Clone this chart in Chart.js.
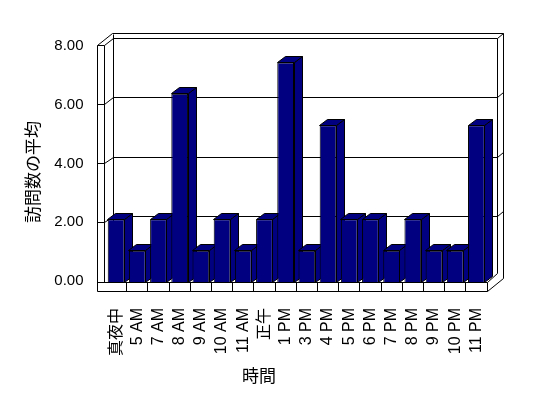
<!DOCTYPE html>
<html>
<head>
<meta charset="utf-8">
<script src="https://cdn.jsdelivr.net/npm/chart.js@4/dist/chart.umd.min.js"></script>
<style>
    html, body { margin: 0; padding: 0; background: #ffffff; }
    #wrap { width: 548px; height: 398px; }
</style>
</head>
<body>
<div id="wrap"><canvas id="visitsChart" width="548" height="398"></canvas></div>
<script>
const categories = ['真夜中', '5 AM', '7 AM', '8 AM', '9 AM', '10 AM', '11 AM', '正午', '1 PM', '3 PM', '4 PM', '5 PM', '6 PM', '7 PM', '8 PM', '9 PM', '10 PM', '11 PM'];
const avgVisits = [2, 1, 2, 6, 1, 2, 1, 2, 7, 1, 5, 2, 2, 1, 2, 1, 1, 5];
const yTicks = [0, 2, 4, 6, 8];

const NAVY = '#000080';
const FONT = '"Liberation Sans", "Noto Sans CJK JP", sans-serif';
const BAR_DEPTH = { x: 8, y: -6 };

function crisp(v) {
    return Math.round(v - 0.5) + 0.5;
}

function line(ctx, pts) {
    ctx.beginPath();
    ctx.moveTo(crisp(pts[0][0]), crisp(pts[0][1]));
    for (let i = 1; i < pts.length; i++) ctx.lineTo(crisp(pts[i][0]), crisp(pts[i][1]));
    ctx.stroke();
}

function poly(ctx, pts) {
    ctx.beginPath();
    ctx.moveTo(crisp(pts[0][0]), crisp(pts[0][1]));
    for (let i = 1; i < pts.length; i++) ctx.lineTo(crisp(pts[i][0]), crisp(pts[i][1]));
    ctx.closePath();
    ctx.fill();
    ctx.stroke();
}

// walls, floor and the side / top faces of the columns
const box3d = {
    id: 'box3d',
    beforeDatasetsDraw(chart) {
        const ctx = chart.ctx;
        const ca = chart.chartArea;
        const xs = chart.scales.x;
        const yl = chart.scales.yl;
        const yb = chart.scales.yb;

        const x0 = ca.left - 8.5;   // front edge of left wall
        const x1 = ca.left - 1.5;
        const x2 = ca.left + 7.5;   // back wall left
        const br = ca.right + 10;   // back wall inner right
        const bor = ca.right + 16;  // back wall outer right
        const ft = ca.bottom;
        const fb = ca.bottom + 9;
        const top8 = yb.getPixelForValue(8);
        const bot = top8 - 5;
        const front8 = yl.getPixelForValue(8);

        ctx.save();
        ctx.strokeStyle = '#000000';
        ctx.lineWidth = 1;

        // back wall
        line(ctx, [[x2 - 1, bot], [bor, bot], [bor, fb - 13]]);
        line(ctx, [[x2, top8], [br, top8], [br, ft - 9]]);
        line(ctx, [[br, top8], [bor, bot]]);
        yTicks.forEach(v => {
            if (v === 0 || v === 8) return;
            const y = yb.getPixelForValue(v);
            line(ctx, [[x2, y], [br, y], [bor, y - 5]]);
        });

        // left wall
        line(ctx, [[x0, front8], [x0, fb]]);
        line(ctx, [[x1, front8], [x1, ft]]);
        line(ctx, [[x2, bot + 1], [x2, yb.getPixelForValue(0)]]);
        line(ctx, [[x0, front8], [x1, front8]]);
        line(ctx, [[x0, front8], [x2 - 1, bot]]);
        line(ctx, [[x1, front8], [x2, top8]]);
        yTicks.forEach(v => {
            if (v === 0 || v === 8) return;
            line(ctx, [[x0, yl.getPixelForValue(v)], [x1, yl.getPixelForValue(v)], [x2, yb.getPixelForValue(v)]]);
        });

        // floor
        line(ctx, [[x0, ft], [ca.right, ft]]);
        line(ctx, [[x0, fb], [ca.right, fb]]);
        for (let i = 0; i < categories.length; i++) {
            const edge = i < categories.length - 1
                ? (xs.getPixelForValue(i) + xs.getPixelForValue(i + 1)) / 2
                : ca.right;
            line(ctx, [[edge, ft], [edge, fb]]);
        }
        line(ctx, [[ca.right, ft], [br, ft - 9]]);
        line(ctx, [[ca.right, fb], [bor, fb - 13]]);

        // column sides and tops
        ctx.fillStyle = NAVY;
        chart.getDatasetMeta(0).data.forEach(bar => {
            const p = bar.getProps(['x', 'y', 'base', 'width'], true);
            const l = p.x - p.width / 2;
            const r = p.x + p.width / 2;
            const dx = BAR_DEPTH.x, dy = BAR_DEPTH.y;
            poly(ctx, [[r, p.y], [r + dx, p.y + dy], [r + dx, p.base + dy], [r, p.base]]);
            poly(ctx, [[l, p.y], [l + dx, p.y + dy], [r + dx, p.y + dy], [r, p.y]]);
        });
        ctx.restore();
    },
    afterDraw(chart) {
        const ctx = chart.ctx;
        ctx.save();
        ctx.fillStyle = '#000000';
        ctx.font = '17px "Noto Sans CJK JP", sans-serif';
        ctx.textAlign = 'center';
        ctx.textBaseline = 'middle';
        ctx.fillText('時間', 259, 376);
        ctx.translate(33, 172);
        ctx.rotate(-Math.PI / 2);
        ctx.fillText('訪問数の平均', 0, 0);
        ctx.restore();
    }
};

document.addEventListener('DOMContentLoaded', function() {
    const ctx = document.getElementById('visitsChart').getContext('2d');
    const visitsChart = new Chart(ctx, {
        type: 'bar',
        data: {
            labels: categories,
            datasets: [{
                label: '訪問数の平均',
                data: avgVisits,
                backgroundColor: NAVY,
                borderColor: '#000000',
                borderWidth: 1,
                barPercentage: 0.79,
                categoryPercentage: 1.0
            }]
        },
        options: {
            responsive: false,
            animation: false,
            layout: {
                padding: { top: 30, right: 61, left: 0, bottom: 0 }
            },
            plugins: {
                legend: { display: false },
                tooltip: { enabled: false }
            },
            scales: {
                x: {
                    grid: { display: false },
                    border: { display: false },
                    ticks: {
                        autoSkip: false,
                        minRotation: 90,
                        maxRotation: 90,
                        padding: 18,
                        color: '#000000',
                        font: { family: FONT, size: 16 }
                    },
                    afterFit: scale => { scale.height = 116; }
                },
                y: {
                    display: false,
                    min: 0,
                    max: 8
                },
                yb: {
                    display: false,
                    min: -0.236,
                    max: 8.27
                },
                yl: {
                    position: 'left',
                    min: -0.034,
                    max: 8.508,
                    grid: { display: false, drawTicks: false },
                    border: { display: false },
                    afterBuildTicks: scale => {
                        scale.ticks = yTicks.map(v => ({ value: v }));
                    },
                    ticks: {
                        padding: 22,
                        color: '#000000',
                        font: { family: FONT, size: 15 },
                        callback: v => Number(v).toFixed(2)
                    },
                    afterFit: scale => { scale.width = 105.5; }
                }
            }
        },
        plugins: [box3d]
    });
});
</script>
</body>
</html>
